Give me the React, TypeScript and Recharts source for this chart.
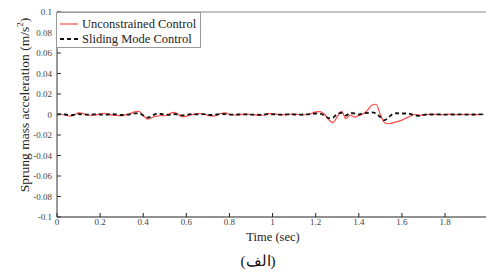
import { LineChart, Line, XAxis, YAxis, ReferenceLine } from "recharts"

// sampled every 0.02 s
const time = [
  0, 0.02, 0.04, 0.06, 0.08, 0.1, 0.12, 0.14, 0.16, 0.18,
  0.2, 0.22, 0.24, 0.26, 0.28, 0.3, 0.32, 0.34, 0.36, 0.38,
  0.4, 0.42, 0.44, 0.46, 0.48, 0.5, 0.52, 0.54, 0.56, 0.58,
  0.6, 0.62, 0.64, 0.66, 0.68, 0.7, 0.72, 0.74, 0.76, 0.78,
  0.8, 0.82, 0.84, 0.86, 0.88, 0.9, 0.92, 0.94, 0.96, 0.98,
  1, 1.02, 1.04, 1.06, 1.08, 1.1, 1.12, 1.14, 1.16, 1.18,
  1.2, 1.22, 1.24, 1.26, 1.28, 1.3, 1.32, 1.34, 1.36, 1.38,
  1.4, 1.42, 1.44, 1.46, 1.48, 1.5, 1.52, 1.54, 1.56, 1.58,
  1.6, 1.62, 1.64, 1.66, 1.68, 1.7, 1.72, 1.74, 1.76, 1.78,
  1.8, 1.82, 1.84, 1.86, 1.88, 1.9, 1.92, 1.94, 1.96, 1.98,
]

const unconstrained = [
  0, 0, -0.0005, -0.0015, -0.0005, 0.0015, 0.001, -0.0005, -0.0008, -0.0003,
  0.0005, 0.0012, 0.0003, -0.0008, -0.001, -0.0012, -0.0003, 0.001, 0.0025, 0.003,
  -0.001, -0.0045, -0.003, -0.0015, -0.0012, -0.0012, 0.0005, 0.002, 0.0005, -0.0022,
  -0.0018, -0.0003, 0.0005, 0.001, 0.0005, -0.0008, -0.0015, -0.0008, 0.001, 0.0015,
  0, -0.0005, -0.0003, 0.0002, 0.0003, 0, -0.0003, -0.0008, -0.0005, 0.0008,
  0.001, 0.0002, -0.0003, -0.0002, 0.0002, 0.0003, 0, -0.0003, 0, 0.001,
  0.0025, 0.0028, 0.0005, -0.005, -0.008, -0.002, 0.003, -0.004, -0.0005, -0.0025,
  -0.001, 0.0005, 0.004, 0.009, 0.01, 0, -0.008, -0.009, -0.008, -0.007,
  -0.0055, -0.0035, -0.0015, 0, -0.0008, -0.0003, 0, 0.0002, 0, -0.0002,
  0, 0.0002, 0, -0.0002, 0, 0.0002, 0, -0.0002, 0, 0,
]

const slidingMode = [
  0, 0.0003, 0, -0.0008, -0.0003, 0.0003, 0.0002, -0.0002, 0, 0.0002,
  0, -0.0003, 0, 0.0003, 0, -0.0005, -0.0002, 0.0002, 0.001, 0.0012,
  -0.001, -0.003, -0.0015, 0.0007, 0.0005, 0, -0.0003, 0.0005, 0, -0.0008,
  -0.0003, 0.0003, 0.0002, 0, 0.0003, -0.0003, -0.0005, 0, 0.0005, 0.0003,
  0, -0.0002, 0, 0.0002, 0, -0.0002, 0, -0.0003, 0, 0.0003,
  0.0002, 0, -0.0002, 0, 0.0002, 0, -0.0002, 0, 0.0002, 0.0005,
  0.001, 0.0008, -0.001, -0.0035, -0.003, 0.0005, 0.0015, -0.001, 0.0015, 0.001,
  0, 0.0013, 0.0015, 0.002, 0.001, -0.0025, -0.0055, -0.0025, 0.0008, 0.0012,
  0.001, 0.001, 0.0005, -0.001, -0.0012, -0.0003, 0, 0, 0.0002, 0,
  -0.0002, 0, 0, 0.0002, 0, -0.0002, 0, 0, 0.0002, 0,
]

const xTicks = [0, 0.2, 0.4, 0.6, 0.8, 1, 1.2, 1.4, 1.6, 1.8]
const yTicks = [-0.1, -0.08, -0.06, -0.04, -0.02, 0, 0.02, 0.04, 0.06, 0.08, 0.1]

const data = time.map((t, i) => ({ t, u: unconstrained[i], s: slidingMode[i] }))

const SERIF = '"Times New Roman", "Liberation Serif", "DejaVu Serif", serif'
const tickStyle = { fontSize: 9, fill: "#444", fontFamily: SERIF }

export default function App() {
  return (
    <div style={{ position: "relative", width: 486, height: 273, background: "#fff", fontFamily: SERIF }}>
      <style>{`body{margin:0}`}</style>
      <LineChart
        width={486}
        height={273}
        data={data}
        margin={{ top: 12, right: 0, bottom: 0, left: 0 }}
        style={{ fontFamily: SERIF }}
      >
        <XAxis
          dataKey="t"
          type="number"
          domain={[0, 1.99]}
          ticks={xTicks}
          allowDataOverflow
          height={56}
          tick={tickStyle}
          tickSize={-4}
          tickMargin={6}
          stroke="#222"
          tickLine={{ stroke: "#222" }}
        />
        <YAxis
          type="number"
          domain={[-0.1, 0.1]}
          ticks={yTicks}
          width={57}
          tick={tickStyle}
          tickSize={-4}
          tickMargin={9}
          tickFormatter={(v: number) => String(v)}
          stroke="#333"
          tickLine={{ stroke: "#333" }}
        />
        <ReferenceLine y={0.1} stroke="#888" strokeWidth={1} />
        <Line
          type="monotone"
          dataKey="u"
          stroke="#ff4a4a"
          strokeWidth={1.2}
          dot={false}
          isAnimationActive={false}
        />
        <Line
          type="monotone"
          dataKey="s"
          stroke="#111"
          strokeWidth={1.8}
          strokeDasharray="4 3"
          dot={false}
          isAnimationActive={false}
        />
      </LineChart>

      {/* legend box, top-left inside the axes */}
      <div
        style={{
          position: "absolute",
          left: 56,
          top: 12,
          width: 143,
          height: 34,
          border: "1px solid #999",
          background: "#fff",
          fontSize: 12.5,
          color: "#222",
          lineHeight: "14px",
        }}
      >
        <div style={{ display: "flex", alignItems: "center", height: 15, marginTop: 3 }}>
          <svg width={22} height={4} style={{ marginLeft: 3 }}>
            <line x1={0} y1={2} x2={18} y2={2} stroke="#ff4a4a" strokeWidth={1.2} />
          </svg>
          <span>Unconstrained Control</span>
        </div>
        <div style={{ display: "flex", alignItems: "center", height: 15 }}>
          <svg width={22} height={4} style={{ marginLeft: 3 }}>
            <line x1={0} y1={2} x2={18} y2={2} stroke="#111" strokeWidth={1.8} strokeDasharray="4 3" />
          </svg>
          <span>Sliding Mode Control</span>
        </div>
      </div>

      <div
        style={{
          position: "absolute",
          left: 24,
          top: 105,
          transform: "translate(-50%, -50%) rotate(-90deg)",
          whiteSpace: "nowrap",
          fontSize: 13.5,
          color: "#222",
        }}
      >
        Sprung mass acceleration (m/s<sup style={{ fontSize: 9 }}>2</sup>)
      </div>

      <div
        style={{
          position: "absolute",
          left: 273,
          top: 237,
          transform: "translate(-50%, -50%)",
          whiteSpace: "nowrap",
          fontSize: 12.5,
          color: "#222",
        }}
      >
        Time (sec)
      </div>

      <div
        style={{
          position: "absolute",
          left: 258,
          top: 261,
          transform: "translate(-50%, -50%)",
          whiteSpace: "nowrap",
          fontSize: 15,
          color: "#111",
        }}
      >
        (الف)
      </div>
    </div>
  )
}
